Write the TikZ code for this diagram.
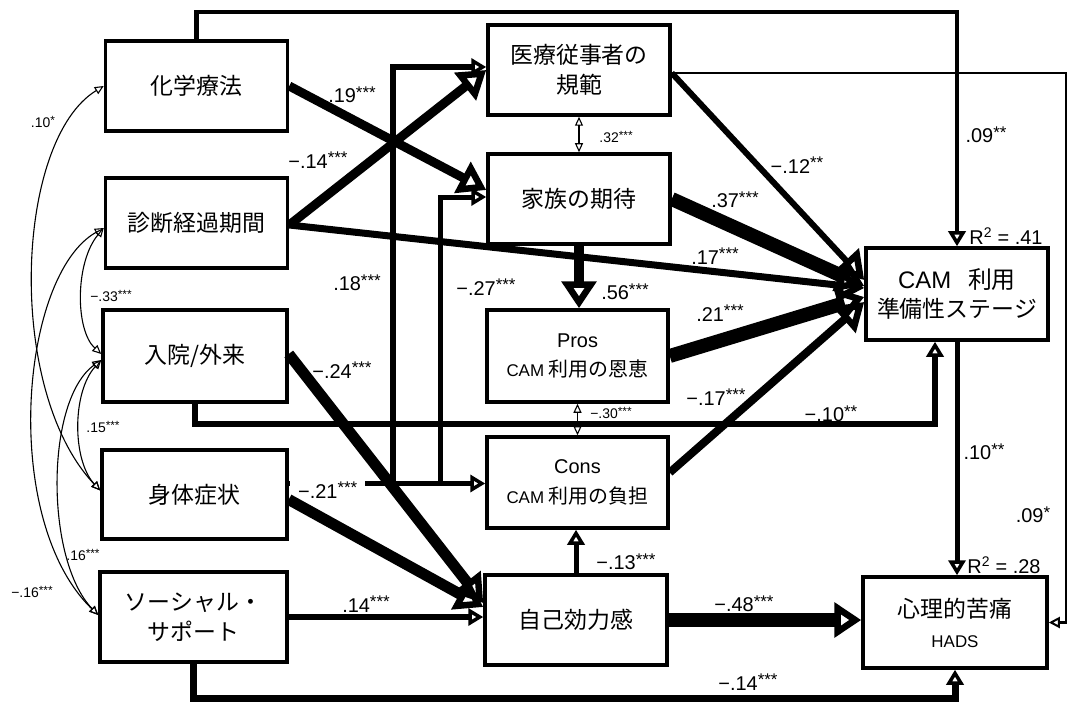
\documentclass[tikz,border=0pt]{standalone}
\usepackage{fontspec}
\usepackage{graphicx}
\setmainfont{Liberation Sans}
\newfontfamily\jp{Noto Sans CJK JP}
\usetikzlibrary{arrows.meta,calc}
\newcommand\st[1]{\raisebox{0.22em}{\scalebox{0.85}{#1}}}
\begin{document}
\begin{tikzpicture}[x=1bp,y=-1bp,
  box/.style={draw,line width=3.5bp,minimum width=182bp,minimum height=90bp,align=center,inner sep=0pt,font=\jp\fontsize{23}{30}\selectfont},
  lab/.style={font=\fontsize{20}{20}\selectfont,inner sep=0.5bp},
  slab/.style={font=\fontsize{14}{14}\selectfont,inner sep=0.5bp},
  cor/.style={line width=1.1bp,{Triangle[open,length=9bp,width=8bp,line width=1.1bp]}-{Triangle[open,length=9bp,width=8bp,line width=1.1bp]}},
  pm/.style={line width=#1,-{Triangle[open,length=15bp,width=17bp,line width=3.5bp]}},
  ps/.style={line width=#1,-{Triangle[open,length=11bp,width=11bp,line width=2bp]}},
  pl/.style={line width=#1,-{Triangle[open,length=27bp,width=34bp,line width=6.5bp]}},
]
\fill[white] (0,0) rectangle (1071,707);
\useasboundingbox (0,0) rectangle (1071,707);

% boxes
\node[box] (kagaku) at (196.5,86) {化学療法};
\node[box] (shindan) at (196.5,223) {診断経過期間};
\node[box,minimum width=184bp,minimum height=92bp] (nyuin) at (195,356) {入院/外来};
\node[box,minimum width=185bp,minimum height=89bp] (shintai) at (194.5,494.5) {身体症状};
\node[box,minimum width=187bp] (social) at (193.5,617) {ソーシャル・\\サポート};
\node[box] (iryo) at (579,70) {医療従事者の\\規範};
\node[box] (kazoku) at (579,199) {家族の期待};
\node[box,minimum width=181bp,minimum height=92bp] (pros) at (577.5,356) {\rmfamily\fontsize{20}{25}\selectfont Pros\\\rmfamily\fontsize{17}{25}\selectfont CAM\ {\jp\fontsize{20}{25}\selectfont 利用の恩恵}};
\node[box,minimum width=181bp,minimum height=91bp] (cons) at (577.5,482.5) {\rmfamily\fontsize{20}{25}\selectfont Cons\\\rmfamily\fontsize{17}{25}\selectfont CAM\ {\jp\fontsize{20}{25}\selectfont 利用の負担}};
\node[box] (jiko) at (576,620) {自己効力感};
\node[box,minimum height=92bp] (cam) at (957,294) {\rmfamily\fontsize{24}{33}\selectfont CAM\hspace{0.7em}{\jp 利用}\\{\jp 準備性ステージ}};
\node[box,minimum width=184bp,minimum height=91bp] (shinri) at (955,622.5) {心理的苦痛\\\rmfamily\fontsize{17}{25}\selectfont HADS};

% helper coordinates
\coordinate (topy) at (0,12);
\coordinate (rx) at (1066,0);
\coordinate (b1) at (393,0);
\coordinate (b2) at (440,0);
\coordinate (sh) at ([yshift=11bp]shintai.east);

% long frame paths
\draw[pm=4.5bp] (kagaku.north) -- (kagaku.north |- topy) -| (cam.north);
\draw[ps=2.5bp] ([yshift=-3bp]iryo.east) -- ([yshift=-3bp]iryo.east -| rx) |- (shinri.east);
\draw[pm=6bp] (nyuin.south) -- ++(0,20) -| ([xshift=-22bp]cam.south);
\draw[pm=7bp] (social.south) -- ++(0,35) -| (shinri.south);

% shintai branches
\draw[pm=5bp] (sh) -- (sh -| cons.west);
\draw[pm=6bp] (sh -| b1) |- ([yshift=3bp]iryo.west);
\draw[pm=5bp] (sh -| b2) |- ([yshift=2bp]kazoku.west);

% diagonals
\draw[pl=9bp] (kagaku.east) -- ([yshift=9bp]kazoku.west);
\draw[pl=9bp] ([yshift=-2bp]shindan.east) -- (iryo.west);
\draw[pl=7bp] ([yshift=-2bp]shindan.east) -- ([yshift=6bp]cam.west);
\draw[pl=11bp] ([yshift=2bp]nyuin.east) -- ([yshift=17bp]jiko.west);
\draw[pm=6bp] (social.east) -- (social.east -| jiko.west);

\draw[pl=6bp] ([yshift=-3bp]iryo.east) -- ([yshift=14bp]cam.west);
\draw[pl=14bp] (kazoku.east) -- ([yshift=8bp]cam.west);
\draw[pl=14bp] (pros.east) -- ([yshift=-3bp]cam.west);
\draw[pl=8bp] ([yshift=10bp]cons.east) -- ([yshift=-8bp]cam.west);

\draw[pl=10bp] (kazoku.south) -- (kazoku.south |- pros.north);
\draw[cor,line width=1.5bp] (iryo.south) -- (iryo.south |- kazoku.north);
\draw[cor,line width=1.5bp] (pros.south) -- (pros.south |- cons.north);
\draw[pm=5bp] (jiko.north) -- (jiko.north |- cons.south);
\draw[pl=14bp] (jiko.east) -- (jiko.east -| shinri.west);
\draw[pm=5bp] (cam.south) -- (cam.south |- shinri.north);

% correlations on the left
\draw[cor] (kagaku.west) .. controls (15,140) and (5,390) .. ([yshift=4bp]shintai.west);
\draw[cor] ([yshift=-5bp]shindan.west) .. controls (20,275) and (0,520) .. ([yshift=2bp]social.west);
\draw[cor] ([yshift=-5bp]shindan.west) .. controls (75,262) and (75,330) .. ([yshift=2bp]nyuin.west);
\draw[cor] ([yshift=-4bp]nyuin.west) .. controls (72,392) and (72,460) .. ([yshift=4bp]shintai.west);
\draw[cor] ([yshift=-4bp]nyuin.west) .. controls (45,400) and (45,560) .. ([yshift=2bp]social.west);

% labels
\node[lab] at (352,95) {.19\st{***}};
\node[lab] at (318,160) {−.14\st{***}};
\node[lab] at (357,283) {.18\st{***}};
\node[lab] at (486,287) {−.27\st{***}};
\node[lab] at (342,370) {−.24\st{***}};
\node[lab,fill=white,anchor=west,inner xsep=8bp,inner ysep=3bp] at (290,490) {−.21\st{***}};
\node[lab] at (366,604) {.14\st{***}};
\node[slab] at (616,137) {.32\st{***}};
\node[lab] at (735,200) {.37\st{***}};
\node[lab] at (797,165) {−.12\st{**}};
\node[lab] at (715,256) {.17\st{***}};
\node[lab] at (625,292) {.56\st{***}};
\node[lab] at (720,313) {.21\st{***}};
\node[lab] at (716,397) {−.17\st{***}};
\node[slab] at (611,413) {−.30\st{***}};
\node[lab] at (831,414) {−.10\st{**}};
\node[lab] at (984,452) {.10\st{**}};
\node[lab] at (986,135) {.09\st{**}};
\node[lab] at (1033,515) {.09\st{*}};
\node[lab] at (1006,236) {R\textsuperscript{2} = .41};
\node[lab] at (1004,565) {R\textsuperscript{2} = .28};
\node[lab] at (744,604) {−.48\st{***}};
\node[lab] at (748,682) {−.14\st{***}};
\node[lab] at (626,562) {−.13\st{***}};
\node[slab] at (43,122) {.10\st{*}};
\node[slab] at (111,296) {−.33\st{***}};
\node[slab] at (103,427) {.15\st{***}};
\node[slab] at (83,555) {.16\st{***}};
\node[slab] at (32,592) {−.16\st{***}};

% drawn last so the label fill does not hide its start
\draw[pl=11bp] ([yshift=-5bp]shintai.east) -- ([yshift=13bp]jiko.west);
\end{tikzpicture}
\end{document}
